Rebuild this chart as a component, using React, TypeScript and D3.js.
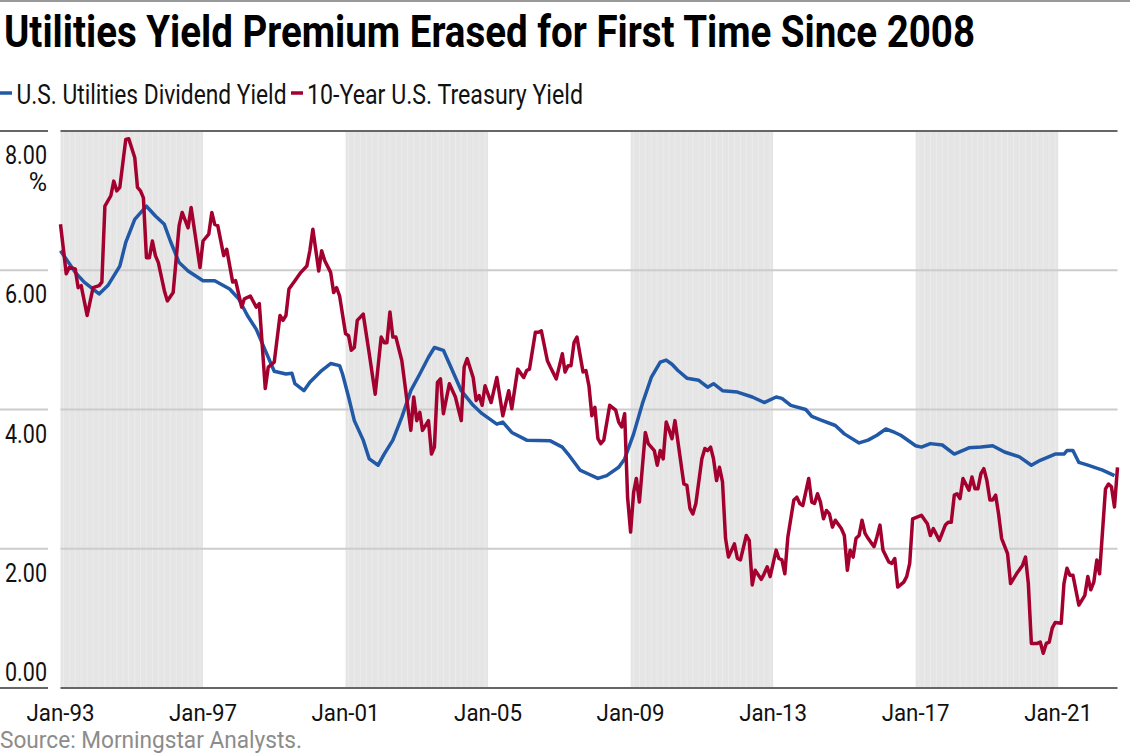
import React from "react";
import * as d3 from "d3";

const title = "Utilities Yield Premium Erased for First Time Since 2008";
const seriesNames = ["U.S. Utilities Dividend Yield", "10-Year U.S. Treasury Yield"];
const seriesColors = ["#2159a6", "#a4002f"];
const source = "Source: Morningstar Analysts.";

const yTicks = [0, 2, 4, 6, 8];
const xTickYears = [1993, 1997, 2001, 2005, 2009, 2013, 2017, 2021];
const bandStartYears = [1993, 2001, 2009, 2017];
const bandYears = 4;

const utilDates = [
  "1993-01", "1993-06", "1993-09", "1994-02", "1994-05", "1994-09", "1994-11", "1995-02",
  "1995-06", "1995-09", "1995-12", "1996-02", "1996-05", "1996-08", "1997-01", "1997-05",
  "1997-10", "1998-01", "1998-04", "1998-07", "1998-10", "1999-01", "1999-05", "1999-07",
  "1999-08", "1999-11", "2000-01", "2000-05", "2000-08", "2000-11", "2000-12", "2001-02",
  "2001-04", "2001-07", "2001-09", "2001-12", "2002-02", "2002-05", "2002-08", "2002-11",
  "2003-02", "2003-05", "2003-07", "2003-10", "2004-01", "2004-04", "2004-08", "2004-11",
  "2005-04", "2005-06", "2005-09", "2006-02", "2006-10", "2007-02", "2007-04", "2007-08",
  "2007-11", "2008-02", "2008-05", "2008-09", "2008-11", "2009-02", "2009-05", "2009-08",
  "2009-11", "2010-01", "2010-03", "2010-05", "2010-08", "2010-12", "2011-03", "2011-05",
  "2011-08", "2012-01", "2012-06", "2012-10", "2013-02", "2013-04", "2013-07", "2013-12",
  "2014-02", "2014-05", "2014-10", "2015-01", "2015-06", "2015-09", "2015-12", "2016-03",
  "2016-06", "2016-08", "2017-01", "2017-03", "2017-06", "2017-10", "2018-02", "2018-07",
  "2018-11", "2019-03", "2019-07", "2019-12", "2020-04", "2020-07", "2020-12", "2021-03",
  "2021-04", "2021-06", "2021-08", "2021-11", "2022-04", "2022-08",
];
const utilValues = [
  6.28, 5.97, 5.83, 5.66, 5.78, 6.06, 6.40, 6.73,
  6.92, 6.78, 6.66, 6.42, 6.11, 5.99, 5.85, 5.85,
  5.73, 5.59, 5.35, 5.15, 4.85, 4.55, 4.51, 4.52,
  4.37, 4.27, 4.39, 4.56, 4.66, 4.63, 4.51, 4.18,
  3.84, 3.56, 3.29, 3.20, 3.36, 3.56, 3.89, 4.27,
  4.51, 4.75, 4.89, 4.85, 4.56, 4.27, 4.06, 3.94,
  3.79, 3.82, 3.67, 3.56, 3.55, 3.46, 3.36, 3.13,
  3.07, 3.01, 3.05, 3.17, 3.29, 3.65, 4.08, 4.46,
  4.68, 4.71, 4.65, 4.56, 4.45, 4.42, 4.32, 4.37,
  4.27, 4.25, 4.18, 4.10, 4.18, 4.16, 4.06, 4.00,
  3.90, 3.85, 3.77, 3.65, 3.52, 3.56, 3.63, 3.72,
  3.67, 3.63, 3.48, 3.46, 3.51, 3.49, 3.36, 3.45,
  3.46, 3.48, 3.39, 3.32, 3.20, 3.27, 3.36, 3.36,
  3.41, 3.41, 3.24, 3.20, 3.13, 3.05,
];

const tsyDates = [
  "1993-01", "1993-03", "1993-04", "1993-06", "1993-07", "1993-08", "1993-10", "1993-12",
  "1994-02", "1994-03", "1994-04", "1994-06", "1994-07", "1994-08", "1994-09", "1994-11",
  "1994-12", "1995-02", "1995-03", "1995-04", "1995-05", "1995-06", "1995-07", "1995-08",
  "1995-09", "1995-10", "1995-12", "1996-01", "1996-03", "1996-05", "1996-06", "1996-08",
  "1996-09", "1996-12", "1997-01", "1997-03", "1997-04", "1997-05", "1997-06", "1997-08",
  "1997-09", "1997-11", "1997-12", "1998-02", "1998-03", "1998-05", "1998-07", "1998-08",
  "1998-10", "1998-11", "1999-01", "1999-03", "1999-04", "1999-05", "1999-06", "1999-08",
  "1999-10", "1999-12", "2000-01", "2000-02", "2000-04", "2000-05", "2000-06", "2000-08",
  "2000-09", "2000-10", "2000-11", "2001-01", "2001-02", "2001-03", "2001-04", "2001-05",
  "2001-07", "2001-09", "2001-11", "2002-01", "2002-02", "2002-03", "2002-04", "2002-05",
  "2002-06", "2002-08", "2002-11", "2002-12", "2003-01", "2003-02", "2003-03", "2003-05",
  "2003-06", "2003-07", "2003-08", "2003-09", "2003-10", "2003-12", "2004-02", "2004-04",
  "2004-05", "2004-06", "2004-08", "2004-09", "2004-10", "2004-11", "2004-12", "2005-02",
  "2005-04", "2005-06", "2005-08", "2005-09", "2005-11", "2006-01", "2006-02", "2006-03",
  "2006-05", "2006-06", "2006-07", "2006-09", "2006-10", "2006-12", "2007-02", "2007-03",
  "2007-04", "2007-05", "2007-06", "2007-07", "2007-09", "2007-10", "2007-11", "2007-12",
  "2008-01", "2008-02", "2008-03", "2008-04", "2008-06", "2008-08", "2008-09", "2008-10",
  "2008-11", "2008-12", "2009-01", "2009-02", "2009-03", "2009-04", "2009-06", "2009-07",
  "2009-09", "2009-10", "2009-11", "2009-12", "2010-01", "2010-02", "2010-03", "2010-04",
  "2010-07", "2010-08", "2010-09", "2010-10", "2010-11", "2011-01", "2011-02", "2011-03",
  "2011-04", "2011-05", "2011-06", "2011-07", "2011-08", "2011-09", "2011-10", "2011-12",
  "2012-01", "2012-02", "2012-04", "2012-05", "2012-06", "2012-07", "2012-09", "2012-10",
  "2012-11", "2012-12", "2013-02", "2013-03", "2013-04", "2013-05", "2013-06", "2013-08",
  "2013-09", "2013-10", "2013-11", "2014-01", "2014-02", "2014-03", "2014-04", "2014-05",
  "2014-06", "2014-07", "2014-08", "2014-09", "2014-10", "2014-12", "2015-01", "2015-02",
  "2015-03", "2015-04", "2015-05", "2015-06", "2015-07", "2015-08", "2015-09", "2015-11",
  "2015-12", "2016-01", "2016-02", "2016-04", "2016-05", "2016-06", "2016-07", "2016-09",
  "2016-10", "2016-11", "2016-12", "2017-03", "2017-05", "2017-06", "2017-07", "2017-09",
  "2017-11", "2017-12", "2018-01", "2018-02", "2018-03", "2018-04", "2018-05", "2018-07",
  "2018-08", "2018-09", "2018-10", "2018-11", "2018-12", "2019-01", "2019-02", "2019-03",
  "2019-04", "2019-05", "2019-06", "2019-08", "2019-09", "2019-11", "2020-01", "2020-02",
  "2020-03", "2020-04", "2020-06", "2020-07", "2020-08", "2020-09", "2020-10", "2020-11",
  "2020-12", "2021-02", "2021-03", "2021-04", "2021-05", "2021-06", "2021-08", "2021-10",
  "2021-11", "2021-12", "2022-01", "2022-02", "2022-03", "2022-05", "2022-06", "2022-07",
  "2022-08", "2022-09",
];
const tsyValues = [
  6.66, 5.95, 6.04, 6.02, 5.75, 5.78, 5.35, 5.75,
  5.78, 5.83, 6.92, 7.07, 7.28, 7.14, 7.19, 7.88,
  7.89, 7.62, 7.19, 7.14, 7.04, 6.18, 6.18, 6.42,
  6.21, 6.11, 5.71, 5.56, 5.68, 6.64, 6.83, 6.61,
  6.90, 6.04, 6.42, 6.52, 6.83, 6.66, 6.64, 6.21,
  6.30, 5.83, 5.85, 5.47, 5.59, 5.63, 5.47, 5.52,
  4.30, 4.61, 4.68, 5.35, 5.28, 5.35, 5.73, 5.85,
  5.97, 6.06, 6.28, 6.59, 5.99, 6.28, 6.14, 5.97,
  5.68, 5.75, 5.63, 5.09, 5.06, 4.85, 4.89, 5.28,
  5.37, 4.80, 4.22, 5.04, 4.96, 4.96, 5.40, 5.04,
  5.04, 4.70, 3.70, 4.18, 3.84, 3.96, 3.70, 3.84,
  3.36, 3.46, 4.39, 4.44, 3.94, 4.37, 4.18, 3.84,
  4.61, 4.73, 4.46, 4.13, 4.20, 4.06, 4.34, 4.10,
  4.46, 3.91, 4.27, 4.01, 4.58, 4.46, 4.56, 4.58,
  5.11, 5.11, 5.13, 4.70, 4.61, 4.44, 4.80, 4.54,
  4.63, 4.63, 4.96, 5.04, 4.54, 4.56, 4.34, 3.91,
  4.03, 3.58, 3.51, 3.56, 4.06, 3.99, 3.82, 3.75,
  3.94, 2.74, 2.24, 2.81, 3.01, 2.67, 3.67, 3.51,
  3.41, 3.20, 3.41, 3.29, 3.82, 3.70, 3.58, 3.84,
  2.93, 2.91, 2.58, 2.50, 2.65, 3.29, 3.44, 3.41,
  3.46, 3.29, 2.98, 3.17, 2.96, 2.15, 1.88, 2.07,
  1.86, 1.84, 2.19, 2.12, 1.48, 1.69, 1.56, 1.64,
  1.74, 1.60, 1.98, 1.86, 1.84, 1.64, 2.17, 2.70,
  2.74, 2.65, 2.62, 3.01, 2.67, 2.65, 2.79, 2.67,
  2.43, 2.55, 2.50, 2.31, 2.41, 2.29, 2.19, 1.69,
  1.98, 1.88, 2.15, 2.19, 2.41, 2.22, 2.15, 2.03,
  2.17, 2.34, 1.98, 1.81, 1.79, 1.86, 1.45, 1.52,
  1.60, 1.79, 2.43, 2.48, 2.36, 2.19, 2.29, 2.12,
  2.34, 2.38, 2.38, 2.77, 2.79, 2.72, 3.01, 2.84,
  3.03, 2.86, 2.86, 3.08, 3.15, 2.98, 2.70, 2.70,
  2.77, 2.50, 2.15, 1.93, 1.50, 1.64, 1.76, 1.88,
  1.50, 0.64, 0.64, 0.66, 0.50, 0.64, 0.66, 0.86,
  0.94, 0.93, 1.50, 1.72, 1.62, 1.62, 1.19, 1.33,
  1.60, 1.41, 1.52, 1.84, 1.64, 2.86, 2.93, 2.89,
  2.60, 3.17,
];

const W = 1130;
const H = 756;
const plotLeft = 60.5;
const plotRight = 1117.5;
const plotTop = 131;
const plotBottom = 688;
const labelColRight = 48;
const font = "'Liberation Sans Narrow', Roboto, 'Liberation Sans', sans-serif";

const parse = d3.timeParse("%Y-%m");

type Pt = { date: Date; value: number };

const App: React.FC = () => {
  const util: Pt[] = utilDates.map((d, i) => ({ date: parse(d)!, value: utilValues[i] }));
  const tsy: Pt[] = tsyDates.map((d, i) => ({ date: parse(d)!, value: tsyValues[i] }));

  const x = d3
    .scaleTime()
    .domain([new Date(1993, 0, 1), new Date(2022, 8, 1)])
    .range([plotLeft, plotRight]);
  const y = d3.scaleLinear().domain([0, 8]).range([plotBottom, plotTop]);

  const line = d3
    .line<Pt>()
    .x((d) => x(d.date))
    .y((d) => y(d.value));

  const fmt = d3.timeFormat("%b-%y");

  // value labels hang below their grid line, the zero label sits above the axis
  const labelBaseline = (v: number) => (v === 0 ? y(v) - 7 : y(v) + 33);

  return (
    <svg
      width={W}
      height={H}
      style={{ position: "absolute", left: 0, top: 0, display: "block", background: "#fff" }}
      fontFamily={font}
    >
      <line x1={0} x2={W} y1={1} y2={1} stroke="#999" strokeWidth={2} />

      <text x={4} y={47} fontSize={44} fontWeight="bold" fill="#000" textLength={971} lengthAdjust="spacingAndGlyphs">
        {title}
      </text>

      {/* legend */}
      <line x1={0} x2={12} y1={93} y2={93} stroke={seriesColors[0]} strokeWidth={3.5} />
      <text x={16.5} y={104} fontSize={27} fill="#111" textLength={270} lengthAdjust="spacingAndGlyphs">
        {seriesNames[0]}
      </text>
      <line x1={291} x2={303} y1={93} y2={93} stroke={seriesColors[1]} strokeWidth={3.5} />
      <text x={307} y={104} fontSize={27} fill="#111" textLength={276} lengthAdjust="spacingAndGlyphs">
        {seriesNames[1]}
      </text>

      {/* shaded 4-year bands */}
      {bandStartYears.map((yr) => {
        const x0 = x(new Date(yr, 0, 1));
        const x1 = x(new Date(yr + bandYears, 0, 1));
        const months = d3.timeMonths(new Date(yr, 0, 1), new Date(yr + bandYears, 0, 1));
        return (
          <g key={yr}>
            <rect x={x0} y={plotTop} width={x1 - x0} height={plotBottom - plotTop} fill="#e5e5e5" />
            {months.map((m, i) =>
              i % 2 === 1 ? (
                <line key={i} x1={x(m)} x2={x(m)} y1={plotTop} y2={plotBottom} stroke="#ededed" strokeWidth={0.8} />
              ) : null
            )}
          </g>
        );
      })}

      {/* grid */}
      {yTicks.map((v) => {
        const strong = v === 0 || v === 8;
        return (
          <g key={v}>
            <line x1={0} x2={labelColRight} y1={y(v)} y2={y(v)} stroke={strong ? "#666" : "#ccc"} strokeWidth={2} />
            <line x1={plotLeft} x2={plotRight} y1={y(v)} y2={y(v)} stroke={strong ? "#666" : "#ccc"} strokeWidth={2} />
            <text
              x={47}
              y={labelBaseline(v)}
              fontSize={25}
              textAnchor="end"
              fill="#111"
              textLength={42}
              lengthAdjust="spacingAndGlyphs"
            >
              {v.toFixed(2)}
            </text>
          </g>
        );
      })}
      <text x={47} y={191} fontSize={25} textAnchor="end" fill="#111">
        %
      </text>

      {/* series */}
      <path d={line(util) || ""} fill="none" stroke={seriesColors[0]} strokeWidth={3.5} strokeLinejoin="round" />
      <path d={line(tsy) || ""} fill="none" stroke={seriesColors[1]} strokeWidth={3.5} strokeLinejoin="round" />

      {/* x ticks */}
      {xTickYears.map((yr) => {
        const d = new Date(yr, 0, 1);
        return (
          <text
            key={yr}
            x={x(d)}
            y={721}
            fontSize={24}
            textAnchor="middle"
            fill="#111"
            textLength={68}
            lengthAdjust="spacingAndGlyphs"
          >
            {fmt(d)}
          </text>
        );
      })}

      <text x={0} y={748} fontSize={24} fill="#8c8c8c" textLength={302} lengthAdjust="spacingAndGlyphs">
        {source}
      </text>
    </svg>
  );
};

export default App;
